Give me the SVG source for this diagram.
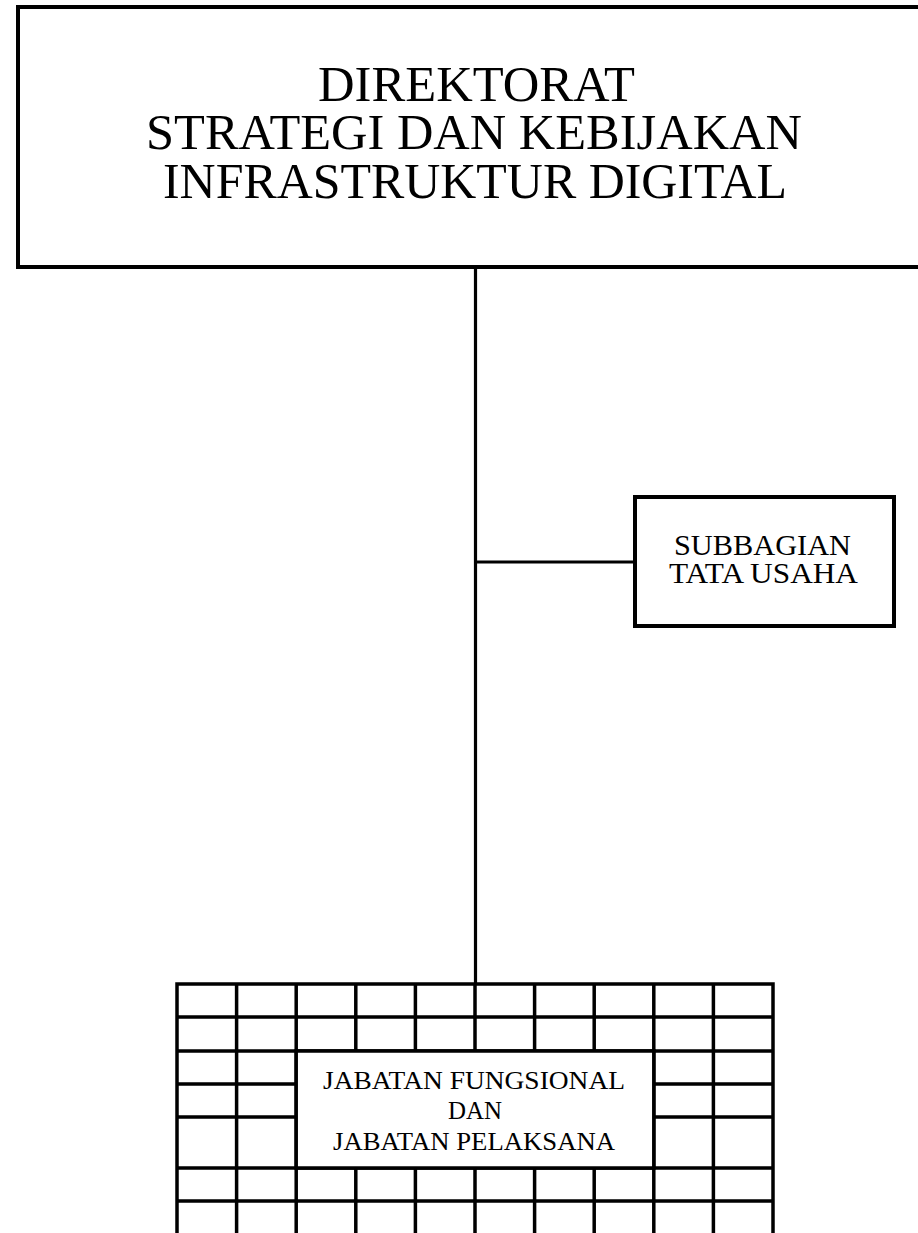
<svg xmlns="http://www.w3.org/2000/svg" width="918" height="1233" viewBox="0 0 918 1233">
<style>
.box{fill:#fff;stroke:#000;stroke-width:4}
.conn{stroke:#000;stroke-width:3.2;fill:none}
.grid{stroke:#000;stroke-width:3.5;fill:none}
.t{font-family:"Liberation Serif","Times New Roman",serif;fill:#000;text-anchor:middle}
</style>
<rect width="918" height="1233" fill="#fff"/>
<g id="connectors">
<line class="conn" x1="475.5" y1="267" x2="475.5" y2="984"/>
<line class="conn" x1="475.5" y1="562" x2="635" y2="562"/>
</g>
<g id="direktorat">
<rect class="box" x="18" y="7" width="920" height="260"/>
<text class="t" font-size="50"><tspan x="476.5" y="101" textLength="317" lengthAdjust="spacingAndGlyphs">DIREKTORAT</tspan><tspan x="474" y="149" textLength="656" lengthAdjust="spacingAndGlyphs">STRATEGI DAN KEBIJAKAN</tspan><tspan x="475" y="198" textLength="624" lengthAdjust="spacingAndGlyphs">INFRASTRUKTUR DIGITAL</tspan></text>
</g>
<g id="subbagian">
<rect class="box" x="635" y="497" width="259" height="129"/>
<text class="t" font-size="29"><tspan x="762.5" y="555" textLength="177" lengthAdjust="spacingAndGlyphs">SUBBAGIAN</tspan><tspan x="763.5" y="583" textLength="189" lengthAdjust="spacingAndGlyphs">TATA USAHA</tspan></text>
</g>
<g id="jabatan">
<rect class="grid" x="177" y="984" width="596" height="253" stroke-width="4"/>
<path class="grid" d="M236.6 984V1240M296.2 984V1240M355.8 984V1240M415.4 984V1240M475 984V1240M534.6 984V1240M594.2 984V1240M653.8 984V1240M713.4 984V1240M177 1017H773M177 1051H773M177 1084H773M177 1117H773M177 1168H773M177 1201H773"/>
<rect x="296.2" y="1051" width="357.6" height="117" fill="#fff" stroke="#000" stroke-width="3.5"/>
<text class="t" font-size="25.5"><tspan x="474" y="1088.5" textLength="302" lengthAdjust="spacingAndGlyphs">JABATAN FUNGSIONAL</tspan><tspan x="475" y="1118.5" textLength="54" lengthAdjust="spacingAndGlyphs">DAN</tspan><tspan x="474" y="1150" textLength="282" lengthAdjust="spacingAndGlyphs">JABATAN PELAKSANA</tspan></text>
</g>
</svg>
